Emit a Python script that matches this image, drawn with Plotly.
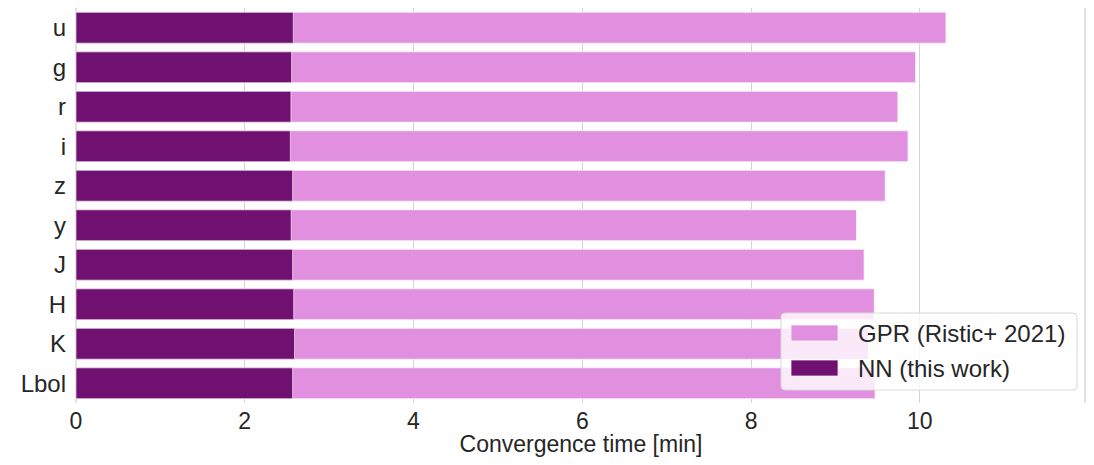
import plotly.graph_objects as go

bands = ["u", "g", "r", "i", "z", "y", "J", "H", "K", "Lbol"]
gpr_minutes = [10.31, 9.95, 9.74, 9.86, 9.59, 9.25, 9.34, 9.46, 9.39, 9.47]
nn_minutes = [2.575, 2.555, 2.547, 2.54, 2.567, 2.55, 2.567, 2.58, 2.59, 2.567]
x_ticks = [0, 2, 4, 6, 8, 10]
legend_labels = ["GPR (Ristic+ 2021)", "NN (this work)"]

GPR_COLOR = "rgb(224,144,223)"
NN_COLOR = "rgb(112,16,112)"
TEXT = "#262626"
GRID = "#d3d3d3"
FONT = "Liberation Sans, Arial, sans-serif"

# page has an 8px body margin on every side; keep the figure inside the window
OFF = 8
W, H = 1094 - 2 * OFF, 465 - 2 * OFF
# plot area in page pixels: x 76..1086, y 8..403
L = 76 - OFF
T = 8 - OFF
R = W - (1086 - OFF)
B = H - (403 - OFF)
pw, ph = W - L - R, H - T - B

fig = go.Figure()
fig.add_trace(go.Bar(
    y=bands, x=gpr_minutes, orientation="h", name=legend_labels[0],
    marker=dict(color=GPR_COLOR, line=dict(color="rgba(255,255,255,0.6)", width=1)),
    width=0.78, showlegend=False,
))
fig.add_trace(go.Bar(
    y=bands, x=nn_minutes, orientation="h", name=legend_labels[1],
    marker=dict(color=NN_COLOR, line=dict(color="rgba(255,255,255,0.6)", width=1)),
    width=0.78, showlegend=False,
))

# frame lines at left (x=0 grid) and right edge of the axes
fig.add_shape(type="line", xref="paper", yref="paper", x0=0, x1=0, y0=0, y1=1,
              line=dict(color=GRID, width=1.3), layer="below")
fig.add_shape(type="line", xref="paper", yref="paper", x0=0.999, x1=0.999, y0=0, y1=1,
              line=dict(color=GRID, width=1.3), layer="above")


def px2paper_x(px):
    return (px - OFF - L) / pw


def px2paper_y(py):
    return 1 - (py - OFF - T) / ph


# custom legend (semi-transparent box, wide swatches), page pixel positions
lx0, lx1 = 781, 1077
ly0, ly1 = 313, 390
r = 4
x0, x1 = px2paper_x(lx0), px2paper_x(lx1)
y0, y1 = px2paper_y(ly1), px2paper_y(ly0)
rx = r / pw
ry = r / ph
path = (f"M {x0+rx},{y0} L {x1-rx},{y0} Q {x1},{y0} {x1},{y0+ry} "
        f"L {x1},{y1-ry} Q {x1},{y1} {x1-rx},{y1} L {x0+rx},{y1} "
        f"Q {x0},{y1} {x0},{y1-ry} L {x0},{y0+ry} Q {x0},{y0} {x0+rx},{y0} Z")
fig.add_shape(type="path", xref="paper", yref="paper", path=path,
              fillcolor="rgba(255,255,255,0.8)", line=dict(color="#d9d9d9", width=1),
              layer="above")

for i, (lab, col) in enumerate(zip(legend_labels, [GPR_COLOR, NN_COLOR])):
    cy = 333 + i * 35
    fig.add_shape(type="rect", xref="paper", yref="paper",
                  x0=px2paper_x(791), x1=px2paper_x(838),
                  y0=px2paper_y(cy + 8), y1=px2paper_y(cy - 8),
                  fillcolor=col, line=dict(color="rgba(255,255,255,0.7)", width=1),
                  layer="above")
    fig.add_annotation(xref="paper", yref="paper", x=px2paper_x(856), y=px2paper_y(cy),
                       text=lab, showarrow=False, xanchor="left", yanchor="middle",
                       font=dict(family=FONT, size=24, color=TEXT))

fig.update_layout(
    width=W, height=H,
    margin=dict(l=L, r=R, t=T, b=B, pad=0, autoexpand=False),
    barmode="overlay",
    bargap=0.2,
    plot_bgcolor="rgba(0,0,0,0)", paper_bgcolor="white",
    font=dict(family=FONT, color=TEXT),
    xaxis=dict(
        range=[0, 11.97], tickvals=x_ticks, ticktext=[str(v) for v in x_ticks],
        showgrid=True, gridcolor=GRID, gridwidth=1.2, zeroline=False,
        showline=False, ticks="", ticklabelstandoff=2, automargin=False,
        tickfont=dict(family=FONT, size=23, color=TEXT),
        title=dict(text="Convergence time [min]", standoff=10,
                   font=dict(family=FONT, size=23, color=TEXT)),
    ),
    yaxis=dict(
        categoryorder="array", categoryarray=bands, autorange="reversed",
        showgrid=False, zeroline=False, showline=False, ticks="",
        ticklabelstandoff=9, automargin=False,
        tickfont=dict(family=FONT, size=24, color=TEXT),
    ),
)

fig.write_html("out.html")
